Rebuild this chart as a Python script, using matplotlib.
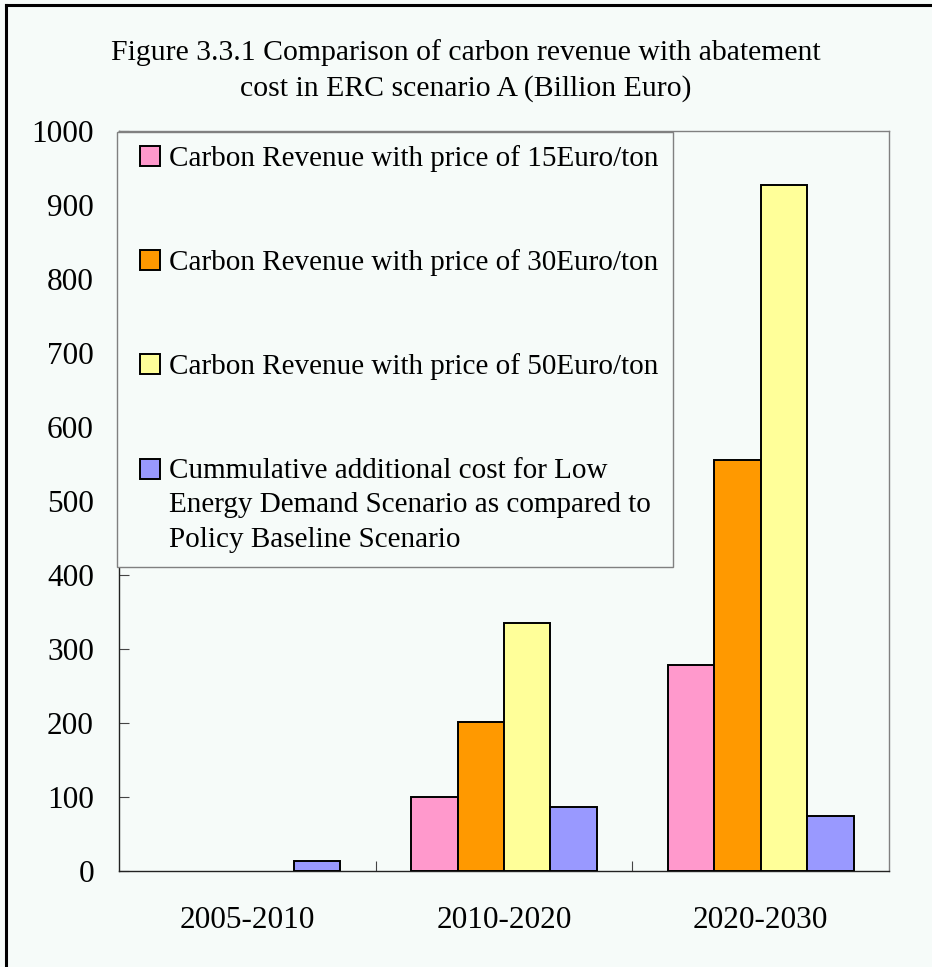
import matplotlib
matplotlib.use('Agg')
import matplotlib.pyplot as plt
from matplotlib.patches import Rectangle
from matplotlib.lines import Line2D
from matplotlib.legend_handler import HandlerPatch
import numpy as np

plt.rcParams['font.family'] = ['Liberation Serif', 'DejaVu Serif']

periods = ['2005-2010', '2010-2020', '2020-2030']
rev_15 = [0, 100, 278]
rev_30 = [0, 202, 556]
rev_50 = [0, 335, 927]
extra_cost = [13, 86, 75]

series_names = [
    'Carbon Revenue with price of 15Euro/ton',
    'Carbon Revenue with price of 30Euro/ton',
    'Carbon Revenue with price of 50Euro/ton',
    'Cummulative additional cost for Low\nEnergy Demand Scenario as compared to\nPolicy Baseline Scenario',
]
bar_colors = ['#ff99cc', '#ff9900', '#ffff99', '#9999ff']
bg = '#f6fbf9'

W, H = 932, 967
fig = plt.figure(figsize=(W / 100, H / 100), dpi=100, facecolor=bg)

# plot area in pixel coordinates
left, right, top, bottom = 119, 889, 131, 871
ax = fig.add_axes([left / W, 1 - bottom / H, (right - left) / W, (bottom - top) / H])
ax.set_facecolor(bg)

x = np.arange(len(periods))
bw = 0.181
all_series = [rev_15, rev_30, rev_50, extra_cost]
for i, (vals, col) in enumerate(zip(all_series, bar_colors)):
    b = ax.bar(x + (i - 1.5) * bw, vals, width=bw, color=col,
               edgecolor='black', linewidth=1.4, zorder=3)
    # empty periods get no outline
    for rect, v in zip(b, vals):
        if v == 0:
            rect.set_linewidth(0)

ax.set_xlim(-0.5, 2.5)
ax.set_ylim(0, 1000)
ax.set_yticks(np.arange(0, 1001, 100))
ax.set_xticks(x)
ax.set_xticklabels(periods)
ax.set_xticks([0.5, 1.5], minor=True)
ax.tick_params(axis='y', direction='in', length=7, width=0.8, color='#444444',
               labelsize=22.5, pad=18)
ax.tick_params(axis='x', which='major', length=0, labelsize=22.5, pad=25)
ax.tick_params(axis='x', which='minor', direction='in', length=7, width=0.8,
               color='#444444')

for s in ['left', 'bottom']:
    ax.spines[s].set_color('#222222')
    ax.spines[s].set_linewidth(1.0)
for s in ['top', 'right']:
    ax.spines[s].set_color('#808080')
    ax.spines[s].set_linewidth(1.0)


# legend box drawn separately so the inner padding can differ per side
box = Rectangle((116.5 / W, 1 - 566.5 / H), (673 - 116.5) / W, (566.5 - 132.5) / H,
                transform=fig.transFigure, facecolor=bg, edgecolor='#808080',
                linewidth=1.0, zorder=5)
fig.patches.append(box)

leg_fs = 21
line_pitch = 1.23 * leg_fs


def top_aligned_square(legend, orig_handle, xdescent, ydescent, width, height, fontsize):
    # keep the marker next to the first line of a multi-line label
    return Rectangle((-xdescent, -ydescent + line_pitch), width, height)


handles = [Rectangle((0, 0), 1, 1, facecolor=c, edgecolor='black', linewidth=1.4)
           for c in bar_colors]
leg = fig.legend(handles, series_names, loc='upper left',
                 bbox_to_anchor=(140 / W, 1 - 145 / H), frameon=False,
                 fontsize=leg_fs, handlelength=0.69, handleheight=0.69,
                 handletextpad=0.31, labelspacing=2.65, borderpad=0,
                 borderaxespad=0,
                 handler_map={handles[3]: HandlerPatch(patch_func=top_aligned_square)})
leg.get_texts()[3].set_linespacing(1.42)
leg.set_zorder(6)

fig.text(0.5, 1 - 60 / H, 'Figure 3.3.1 Comparison of carbon revenue with abatement',
         ha='center', va='baseline', fontsize=21.4)
fig.text(0.5, 1 - 96 / H, 'cost in ERC scenario A (Billion Euro)',
         ha='center', va='baseline', fontsize=21.4)

# outer frame (top and left edges)
fig.add_artist(Line2D([6 / W, 6 / W], [0, 1 - 4.5 / H], transform=fig.transFigure,
                      color='black', linewidth=2.2))
fig.add_artist(Line2D([6 / W, 1], [1 - 4.5 / H, 1 - 4.5 / H], transform=fig.transFigure,
                      color='black', linewidth=2.2))

fig.savefig('out.png', dpi=100, facecolor=bg)
